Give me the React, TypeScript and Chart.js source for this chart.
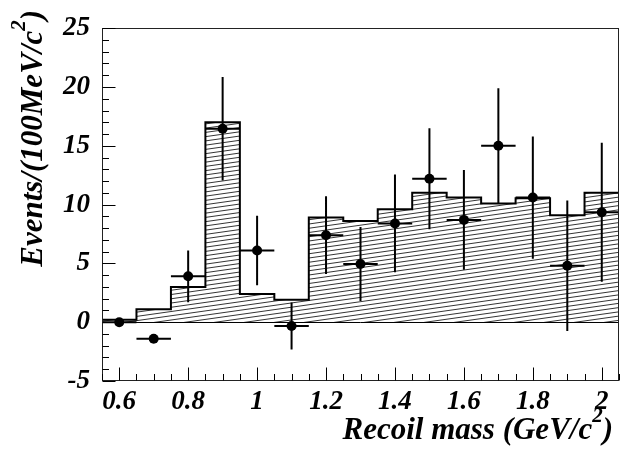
import React, { useEffect, useRef } from 'react';
import { Chart, registerables } from 'chart.js';

Chart.register(...registerables);

// ---- data ----
const binCenters = [0.6, 0.7, 0.8, 0.9, 1.0, 1.1, 1.2, 1.3, 1.4, 1.5, 1.6, 1.7, 1.8, 1.9, 2.0];
const histValues = [0.2, 1.1, 3.0, 17.0, 2.4, 1.9, 8.9, 8.6, 9.6, 11.0, 10.6, 10.1, 10.55, 9.1, 11.0];
const binWidth = 0.1;
const pointX = [0.6, 0.7, 0.8, 0.9, 1.0, 1.1, 1.2, 1.3, 1.4, 1.5, 1.6, 1.7, 1.8, 1.9, 2.0];
const pointY = [0, -1.4, 3.9, 16.45, 6.1, -0.33, 7.4, 4.95, 8.4, 12.2, 8.7, 15.0, 10.6, 4.8, 9.35];
const errY = [0, 0, 2.2, 4.4, 2.95, 2.0, 3.3, 3.15, 4.15, 4.3, 4.25, 4.9, 5.2, 5.55, 5.9];
const errX = [0.05, 0.05, 0.05, 0.05, 0.05, 0.05, 0.05, 0.05, 0.05, 0.05, 0.05, 0.05, 0.05, 0.05, 0.05];
const xTickValues = [0.6, 0.8, 1, 1.2, 1.4, 1.6, 1.8, 2];
const yTickValues = [-5, 0, 5, 10, 15, 20, 25];
const xRange = [0.55, 2.05];
const yRange = [-5, 25];
const xTitleMain = 'Recoil mass (GeV/c';
const xTitleSup = '2';
const xTitleEnd = ')';
const yTitleMain = 'Events/(100MeV/c';
const yTitleSup = '2';
const yTitleEnd = ')';

const FAMILY = '"Liberation Serif", "Times New Roman", Times, serif';

function makeHatch(): CanvasPattern | string {
  const c = document.createElement('canvas');
  const W = 30;
  const H = 17;
  const gap = H / 4;
  c.width = W;
  c.height = H;
  const g = c.getContext('2d');
  if (!g) return 'rgba(0,0,0,0.2)';
  g.strokeStyle = '#000';
  g.lineWidth = 0.8;
  for (let k = -1; k <= 4; k++) {
    g.beginPath();
    g.moveTo(0, k * gap + gap);
    g.lineTo(W, k * gap);
    g.stroke();
  }
  const p = g.createPattern(c, 'repeat');
  return p || 'rgba(0,0,0,0.2)';
}

function drawPieces(ctx: CanvasRenderingContext2D, x: number, y: number, main: string, sup: string, end: string, size: number, supSize: number, raise: number) {
  ctx.font = `italic bold ${size}px ${FAMILY}`;
  ctx.fillText(main, x, y);
  let cx = x + ctx.measureText(main).width;
  ctx.font = `italic bold ${supSize}px ${FAMILY}`;
  ctx.fillText(sup, cx, y - raise);
  cx += ctx.measureText(sup).width;
  ctx.font = `italic bold ${size}px ${FAMILY}`;
  ctx.fillText(end, cx, y);
}

function measurePieces(ctx: CanvasRenderingContext2D, main: string, sup: string, end: string, size: number, supSize: number) {
  ctx.font = `italic bold ${size}px ${FAMILY}`;
  let w = ctx.measureText(main).width + ctx.measureText(end).width;
  ctx.font = `italic bold ${supSize}px ${FAMILY}`;
  w += ctx.measureText(sup).width;
  return w;
}

const overlayPlugin = {
  id: 'overlay',
  beforeDatasetsDraw(chart: any) {
    const { ctx, chartArea: a, scales } = chart;
    const y0 = Math.round(scales.y.getPixelForValue(0)) + 0.5;
    ctx.save();
    ctx.strokeStyle = '#000';
    ctx.lineWidth = 1;
    ctx.beginPath();
    ctx.moveTo(a.left, y0);
    ctx.lineTo(a.right, y0);
    ctx.stroke();
    ctx.restore();
  },
  afterDatasetDraw(chart: any, args: any) {
    if (args.index !== 0) return;
    const { ctx, scales } = chart;
    const xs = scales.x;
    const ys = scales.y;
    ctx.save();
    ctx.strokeStyle = '#000';
    ctx.lineWidth = 2;
    ctx.beginPath();
    for (let i = 0; i < pointX.length; i++) {
      const px = xs.getPixelForValue(pointX[i]);
      const py = ys.getPixelForValue(pointY[i]);
      ctx.moveTo(xs.getPixelForValue(pointX[i] - errX[i]), py);
      ctx.lineTo(xs.getPixelForValue(pointX[i] + errX[i]), py);
      if (errY[i] > 0) {
        ctx.moveTo(px, ys.getPixelForValue(pointY[i] + errY[i]));
        ctx.lineTo(px, ys.getPixelForValue(pointY[i] - errY[i]));
      }
    }
    ctx.stroke();
    ctx.restore();
  },
  afterDraw(chart: any) {
    const { ctx, chartArea: a, scales } = chart;
    const xs = scales.x;
    const ys = scales.y;
    ctx.save();
    // frame
    ctx.strokeStyle = '#222';
    ctx.lineWidth = 1;
    const L = Math.round(a.left) + 0.5;
    const R = Math.round(a.right) - 0.5;
    const T = Math.round(a.top) + 0.5;
    const B = Math.round(a.bottom) - 0.5;
    ctx.strokeRect(L, T, R - L, B - T);
    // ticks
    ctx.strokeStyle = '#000';
    ctx.beginPath();
    for (let v = yRange[0]; v <= yRange[1] + 1e-9; v += 1) {
      const major = Math.abs(v / 5 - Math.round(v / 5)) < 1e-6;
      const py = Math.round(ys.getPixelForValue(v)) + 0.5;
      ctx.moveTo(L, py);
      ctx.lineTo(L + (major ? 13 : 6.5), py);
    }
    for (let k = 0; k <= 30; k++) {
      const v = xRange[0] + k * 0.05;
      if (v > xRange[1] + 1e-9) break;
      const major = Math.abs(v / 0.2 - Math.round(v / 0.2)) < 1e-6;
      const px = Math.round(xs.getPixelForValue(v)) + 0.5;
      ctx.moveTo(px, B);
      ctx.lineTo(px, B - (major ? 13 : 6.5));
    }
    ctx.stroke();
    // titles
    ctx.fillStyle = '#000';
    ctx.textBaseline = 'alphabetic';
    ctx.textAlign = 'left';
    const size = 31;
    const sup = 21;
    const raise = 17;
    const wx = measurePieces(ctx, xTitleMain, xTitleSup, xTitleEnd, size, sup);
    drawPieces(ctx, 613 - wx, 439, xTitleMain, xTitleSup, xTitleEnd, size, sup, raise);
    const wy = measurePieces(ctx, yTitleMain, yTitleSup, yTitleEnd, size, sup);
    ctx.translate(42, 10 + wy);
    ctx.rotate(-Math.PI / 2);
    drawPieces(ctx, 0, 0, yTitleMain, yTitleSup, yTitleEnd, size, sup, raise);
    ctx.restore();
  },
};

export default function App() {
  const ref = useRef<HTMLCanvasElement | null>(null);
  useEffect(() => {
    if (!ref.current) return;
    const hatch = makeHatch();
    const steps: { x: number; y: number }[] = [{ x: binCenters[0] - binWidth / 2, y: 0 }];
    binCenters.forEach((c, i) => {
      steps.push({ x: c - binWidth / 2, y: histValues[i] });
      steps.push({ x: c + binWidth / 2, y: histValues[i] });
    });
    steps.push({ x: binCenters[binCenters.length - 1] + binWidth / 2, y: 0 });
    const points = pointX.map((x, i) => ({ x, y: pointY[i] }));
    const tickFont = { family: FAMILY, size: 27, style: 'italic' as const, weight: 'bold' as const };
    const chart = new Chart(ref.current, {
      type: 'scatter',
      data: {
        datasets: [
          {
            type: 'line',
            data: steps,
            borderColor: '#000',
            borderWidth: 2,
            backgroundColor: hatch as any,
            fill: 'origin',
            pointRadius: 0,
            tension: 0,
            order: 2,
          } as any,
          {
            type: 'scatter',
            data: points,
            pointRadius: 5,
            pointBackgroundColor: '#000',
            pointBorderWidth: 0,
            showLine: false,
            order: 1,
          } as any,
        ],
      },
      options: {
        animation: false,
        responsive: false,
        devicePixelRatio: 1,
        events: [],
        layout: { padding: { top: 12, right: 1, left: 0, bottom: 0 } },
        plugins: { legend: { display: false }, tooltip: { enabled: false } },
        scales: {
          x: {
            type: 'linear',
            min: xRange[0],
            max: xRange[1],
            grid: { display: false, drawTicks: false },
            border: { display: false },
            afterBuildTicks: (s: any) => {
              s.ticks = xTickValues.map((value) => ({ value }));
            },
            afterFit: (s: any) => {
              s.height = 92;
            },
            ticks: {
              font: tickFont,
              color: '#000',
              padding: 5,
              maxRotation: 0,
              autoSkip: false,
              callback: (v: any) => String(v),
            },
          },
          y: {
            type: 'linear',
            min: yRange[0],
            max: yRange[1],
            grid: { display: false, drawTicks: false },
            border: { display: false },
            afterBuildTicks: (s: any) => {
              s.ticks = yTickValues.map((value) => ({ value }));
            },
            afterFit: (s: any) => {
              s.width = 102;
            },
            ticks: {
              font: tickFont,
              color: '#000',
              padding: 12,
              autoSkip: false,
              callback: (v: any) => String(v),
            },
          },
        },
      },
      plugins: [overlayPlugin],
    });
    return () => chart.destroy();
  }, []);
  return (
    <div style={{ position: 'absolute', left: 0, top: 0, width: 624, height: 473, background: '#fff' }}>
      <canvas ref={ref} width={624} height={473} style={{ display: 'block' }} />
    </div>
  );
}
